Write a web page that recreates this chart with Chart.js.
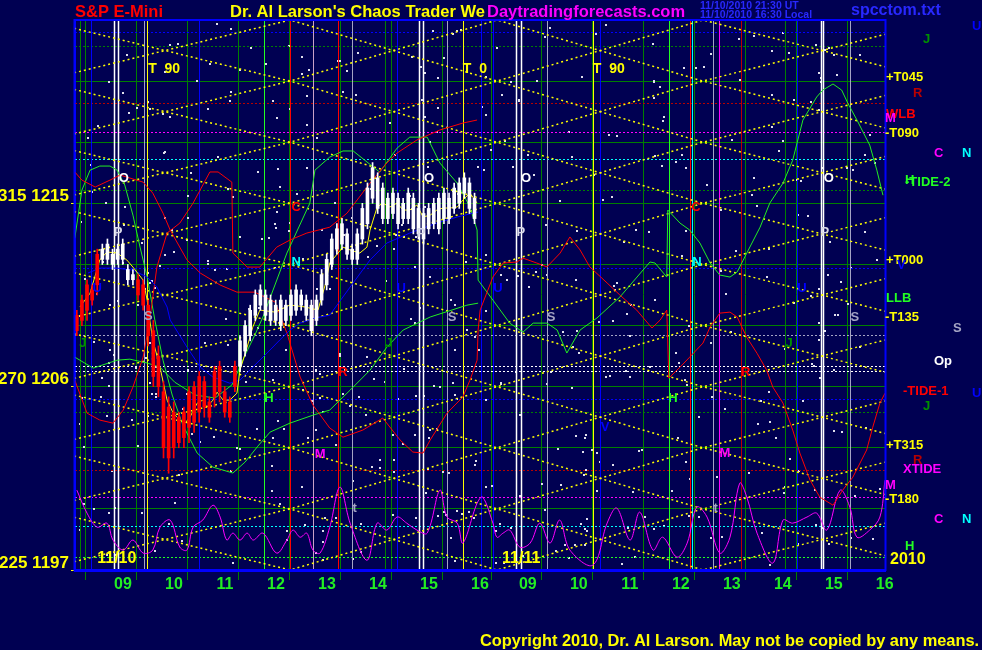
<!DOCTYPE html>
<html lang="en">
<head>
  <meta charset="UTF-8" />
  <title>S&amp;P E-Mini - Chaos Trader</title>
  <script src="https://cdn.jsdelivr.net/npm/chart.js"></script>
  <style>
    body { margin: 0; background: #000052; }
    canvas { display: block; }
  </style>
</head>
<body>
  <canvas id="chaos" width="982" height="650"></canvas>

  <script>
    // x = chart hours (day 1 clock time, day 2 clock time shifted by 7.94)
    const hourTicks = [9, 10, 11, 12, 13, 14, 15, 16, 16.94, 17.94, 18.94, 19.94, 20.94, 21.94, 22.94, 23.94];
    const hourLabels = ['09', '10', '11', '12', '13', '14', '15', '16', '09', '10', '11', '12', '13', '14', '15', '16'];
    const priceLabelValues = [1197, 1206, 1215];
    const priceLabelText = ['225 1197', '270 1206', '315 1215'];
    const dateLabels = ['11/10', '11/11'];
    const dateTimes = [8.73, 16.67];

    // 6-minute bars, day 1
    const barStart = 8.33, barStep = 0.1;
    const barHigh = [1209.75,1210.5,1211.25,1211.0,1212.75,1213.0,1213.25,1212.75,1213.0,1213.25,
      1212.0,1211.75,1211.5,1211.25,1210.25,1209.25,1208.0,1206.25,1205.5,1205.25,
      1204.75,1205.0,1206.0,1206.25,1206.75,1206.5,1205.5,1207.0,1207.25,1206.0,
      1205.5,1207.25,1208.5,1209.25,1210.0,1210.75,1211.0,1210.75,1210.5,1210.25,
      1210.5,1210.25,1210.75,1211.0,1210.75,1210.5,1210.25,1210.5,1211.75,1212.5,
      1213.5,1214.0,1214.25,1213.75,1213.0,1213.75,1215.0,1216.0,1217.0,1216.5,
      1216.0,1215.5,1215.75,1215.5,1215.25,1215.75,1215.5,1215.0,1214.75,1215.0,
      1215.25,1215.5,1215.75,1215.5,1216.0,1216.25,1216.5,1216.25,1215.5];
    const barLow = [1208.5,1209.0,1209.25,1210.0,1210.5,1212.0,1212.0,1211.75,1212.0,1212.0,
      1211.0,1211.0,1210.25,1209.75,1208.0,1206.0,1205.5,1202.5,1201.75,1202.5,
      1203.0,1203.0,1203.25,1203.75,1204.25,1204.5,1204.25,1205.0,1205.25,1204.5,
      1204.25,1205.75,1206.75,1207.5,1208.25,1209.25,1209.75,1209.25,1209.0,1209.0,
      1208.75,1209.0,1209.25,1209.5,1209.75,1209.25,1208.5,1209.0,1210.0,1210.75,
      1211.75,1212.5,1212.75,1212.25,1212.0,1212.0,1213.0,1213.75,1215.0,1214.5,
      1214.0,1214.0,1214.25,1213.75,1214.0,1214.0,1213.5,1213.25,1213.0,1213.5,
      1213.75,1213.5,1214.0,1214.0,1214.5,1214.75,1215.25,1214.5,1214.0];
    const barOpen = [1209.5,1210.25,1211.0,1210.75,1212.5,1212.25,1212.25,1212.0,1212.25,1212.25,
      1211.25,1211.25,1211.25,1211.0,1210.0,1208.75,1207.5,1205.75,1205.0,1204.75,
      1204.5,1204.75,1205.75,1206.0,1206.5,1206.25,1205.25,1206.75,1207.0,1205.75,
      1205.25,1207.0,1207.0,1207.75,1208.5,1209.5,1210.0,1209.5,1209.25,1209.25,
      1209.0,1209.25,1209.5,1209.75,1210.0,1209.5,1208.75,1209.25,1210.25,1211.0,
      1212.0,1212.75,1213.0,1212.5,1212.25,1212.25,1213.25,1214.0,1215.25,1214.75,
      1214.25,1214.25,1214.5,1214.0,1214.25,1214.25,1213.75,1213.5,1213.25,1213.75,
      1214.0,1213.75,1214.25,1214.25,1214.75,1215.0,1215.5,1214.75,1214.25];
    const barClose = [1208.75,1209.25,1209.75,1210.25,1211.0,1212.75,1213.0,1212.5,1212.75,1213.0,
      1211.75,1211.5,1210.5,1210.0,1208.5,1206.5,1206.0,1203.0,1202.5,1203.0,
      1203.25,1203.5,1204.0,1204.25,1204.75,1205.0,1204.5,1205.5,1205.75,1204.75,
      1204.5,1206.0,1208.25,1209.0,1209.75,1210.5,1210.75,1210.5,1210.25,1210.0,
      1210.25,1210.0,1210.5,1210.75,1210.5,1210.25,1210.0,1210.25,1211.5,1212.25,
      1213.25,1213.75,1214.0,1213.5,1212.75,1213.5,1214.75,1215.75,1216.75,1216.25,
      1215.75,1215.25,1215.5,1215.25,1215.0,1215.5,1215.25,1214.75,1214.5,1214.75,
      1215.0,1215.25,1215.5,1215.25,1215.75,1216.0,1216.25,1216.0,1215.25];

    // smoothed price (yellow)
    const avgLine = [[8.39,1209.91],[8.59,1210.59],[8.78,1212.22],[8.92,1212.61],[9.12,1212.56],[9.31,1212.22],
      [9.43,1211.87],[9.63,1211.23],[9.71,1210.25],[9.76,1209.27],[9.82,1208.29],[9.96,1206.96],[10.1,1205.34],
      [10.22,1204.7],[10.35,1204.36],[10.45,1204.21],[10.55,1204.51],[10.69,1205.19],[10.8,1205.34],[10.88,1205.0],
      [11.0,1205.34],[11.08,1205.73],[11.2,1205.34],[11.33,1205.34],[11.47,1205.68],[11.53,1206.81],[11.67,1207.94],
      [11.78,1208.92],[11.92,1209.76],[12.22,1209.66],[12.51,1210.01],[12.81,1209.91],[13.06,1209.76],[13.2,1210.99],
      [13.29,1212.07],[13.55,1212.85],[13.69,1212.71],[13.88,1212.56],[14.02,1212.85],[14.08,1213.69],[14.22,1214.82],
      [14.33,1215.01],[14.47,1214.82],[14.61,1215.01],[14.73,1214.67],[14.86,1214.67],[15.0,1214.92],[15.12,1214.33],
      [15.26,1214.42],[15.39,1214.67],[15.51,1214.77],[15.65,1214.77],[15.79,1214.82],[15.9,1215.16],[16.04,1215.5],
      [16.18,1215.01]];

    // green cycle lines
    const greenA = [[8.29,1213.29],[8.43,1215.65],[8.59,1216.63],[8.78,1216.83],[8.98,1216.83],[9.12,1216.63],
      [9.27,1215.9],[9.43,1214.42],[9.57,1212.85],[9.71,1211.38],[9.86,1209.27],[10.02,1207.3],[10.2,1205.59],
      [10.41,1204.11],[10.69,1202.74],[11.0,1202.05],[11.39,1201.76],[11.63,1202.3],[11.88,1203.08],[12.12,1203.77],
      [12.51,1204.21],[12.96,1204.6],[13.29,1204.85],[13.69,1205.83],[14.08,1206.81],[14.41,1207.94],[14.73,1208.78],
      [15.26,1209.42],[15.98,1210.0],[16.2,1210.1]];
    const greenB = [[8.29,1207.45],[8.65,1206.91],[9.12,1207.3],[9.37,1207.35],[9.71,1207.16],[9.96,1206.96],
      [10.25,1206.22],[10.65,1205.59],[11.04,1205.44],[11.37,1206.08],[11.63,1207.55],[11.82,1208.53],[11.98,1209.42],
      [12.45,1212.56],[12.9,1215.01],[13.0,1216.63],[13.29,1217.27],[13.55,1217.57],[13.75,1217.57],[14.27,1216.53],
      [14.61,1217.71],[14.86,1218.25],[15.2,1218.25],[15.45,1216.98],[15.79,1215.99],[16.04,1214.82],[16.18,1213.69],
      [16.2,1211.23],[16.49,1210.25],[16.82,1209.12],[17.08,1208.68],[17.28,1209.12],[17.55,1209.12],[17.75,1208.78],
      [17.94,1207.65],[18.2,1208.78],[18.53,1209.37],[18.98,1210.4],[19.57,1212.12],[19.67,1212.07],[19.9,1211.38],
      [19.92,1214.67],[20.16,1214.03],[20.35,1213.69],[20.55,1213.05],[20.75,1212.07],[20.94,1211.48],[21.14,1211.38],
      [21.28,1211.63],[21.47,1212.56],[21.73,1213.83],[21.92,1215.01],[22.18,1215.99],[22.37,1217.12],[22.57,1219.09],
      [22.84,1220.22],[22.96,1220.56],[23.16,1220.86],[23.33,1220.56],[23.45,1219.92],[23.63,1219.09],[23.88,1217.86],
      [24.02,1216.63],[24.14,1215.4]];

    // red cycle lines
    const redA = [[8.29,1216.54],[8.43,1216.14],[8.69,1215.8],[8.98,1216.14],[9.18,1216.39],[9.63,1216.04],
      [9.82,1215.5],[10.02,1214.52],[10.16,1213.69],[10.49,1212.22],[10.75,1211.58],[11.14,1210.99],[11.47,1210.64],
      [11.82,1210.64],[12.22,1210.15],[12.45,1208.63],[12.71,1206.47],[12.96,1205.1],[13.29,1203.97],[13.55,1203.52],
      [13.94,1203.87],[14.33,1204.46],[14.67,1203.38],[14.92,1202.79],[15.12,1202.74],[15.26,1203.38],[15.59,1204.7],
      [15.9,1205.49],[16.04,1206.32],[16.18,1207.3],[16.2,1208.78],[16.24,1209.76],[16.49,1211.38],[16.69,1212.07],
      [16.96,1212.12],[17.08,1212.31],[17.35,1212.07],[17.55,1211.88],[17.81,1212.56],[18.0,1213.35],[18.2,1212.71],
      [18.39,1211.88],[18.73,1211.09],[18.98,1210.5],[19.31,1209.76],[19.61,1208.88],[19.77,1209.27],[19.9,1209.76],
      [19.94,1206.42],[20.16,1206.96],[20.35,1207.45],[20.61,1208.14],[20.75,1208.93],[20.94,1209.61],[21.14,1209.66],
      [21.28,1209.42],[21.47,1208.42],[21.67,1207.64],[21.86,1206.81],[21.98,1205.98],[22.18,1205.19],[22.37,1203.87],
      [22.51,1202.74],[22.71,1201.41],[22.9,1200.58],[23.16,1200.18],[23.35,1200.92],[23.55,1201.56],[23.82,1202.89],
      [23.94,1204.01],[24.08,1205.19],[24.18,1205.68]];
    const redB = [[8.29,1206.32],[8.53,1204.7],[8.78,1204.36],[9.04,1204.21],[9.24,1204.85],[9.43,1205.98],
      [9.63,1207.45],[9.76,1209.27],[9.9,1211.87],[10.1,1213.54],[10.35,1214.03],[10.61,1215.01],[10.94,1216.54],
      [11.1,1216.54],[11.37,1216.04],[11.39,1212.56],[11.67,1211.87],[11.92,1211.87],[12.25,1212.85],[12.51,1213.2],
      [12.84,1213.54],[13.29,1213.83],[13.63,1214.52],[14.08,1215.99],[14.41,1216.98],[14.61,1217.47],[15.0,1218.11],
      [15.45,1218.6],[15.9,1218.94],[16.18,1219.09]];

    // blue cycle line
    const blueA = [[8.55,1211.58],[8.78,1211.82],[9.12,1211.82],[9.43,1211.72],[9.71,1211.38],[9.9,1210.89],
      [10.1,1209.91],[10.16,1209.27],[10.49,1207.94],[10.75,1206.96],[11.0,1206.47],[11.33,1206.17],[11.53,1206.32],
      [11.78,1206.96],[12.06,1207.65],[12.31,1208.29],[12.51,1208.78],[12.71,1209.12],[13.0,1209.37],[13.29,1209.51],
      [13.69,1210.89],[14.08,1212.22],[14.41,1213.05],[14.86,1213.54],[15.39,1214.03],[15.79,1214.33],[16.1,1214.52],
      [16.2,1214.57]];

    // magenta oscillator along the bottom
    const magentaA = [[8.33,1200.92],[8.53,1199.79],[8.73,1199.1],[8.92,1199.3],[9.04,1198.47],[9.24,1197.98],
      [9.43,1198.47],[9.63,1197.83],[9.82,1197.98],[9.96,1199.1],[10.16,1199.45],[10.35,1198.12],[10.49,1197.98],
      [10.61,1199.1],[10.8,1199.45],[11.0,1200.18],[11.14,1199.6],[11.27,1198.47],[11.39,1198.81],[11.53,1198.47],
      [11.67,1198.81],[11.79,1198.47],[11.98,1198.81],[12.25,1197.83],[12.45,1198.47],[12.57,1198.96],[12.71,1198.61],
      [12.84,1198.81],[12.96,1197.98],[13.1,1197.83],[13.29,1199.1],[13.49,1201.07],[13.69,1199.3],[14.02,1197.48],
      [14.22,1199.3],[14.41,1198.96],[14.61,1199.6],[14.8,1199.3],[15.0,1198.96],[15.2,1198.81],[15.45,1200.92],
      [15.59,1199.6],[15.79,1199.3],[15.9,1198.32],[16.18,1200.28],[16.29,1200.58],[16.49,1199.3],[16.57,1198.61],
      [16.69,1198.81],[16.82,1198.96],[17.02,1198.12],[17.22,1198.32],[17.41,1199.3],[17.61,1198.32],[17.8,1199.45],
      [18.0,1197.98],[18.45,1197.24],[18.73,1199.3],[18.92,1200.04],[19.18,1198.47],[19.37,1199.84],[19.63,1197.98],
      [19.82,1198.61],[20.1,1197.63],[20.3,1198.32],[20.49,1200.09],[20.69,1199.6],[20.94,1197.83],[21.14,1198.61],
      [21.33,1201.26],[21.47,1200.58],[21.67,1198.81],[21.98,1197.34],[22.18,1199.45],[22.37,1199.3],[22.65,1199.6],
      [22.84,1199.79],[23.04,1198.96],[23.3,1200.92],[23.49,1200.09],[23.63,1198.61],[23.88,1198.96],[24.08,1199.6],
      [24.18,1201.41]];

    // yellow dotted time lattice: turning times and price levels
    const latticeTimes = [7.61, 12.51, 16.57, 20.61, 25.28];
    const latticeLevels = [1224, 1221, 1218, 1215, 1212, 1209, 1206, 1203, 1200, 1197];

    // dotted price levels
    const levelPrices = [1223.41, 1222.72, 1219.92, 1218.5, 1217.17, 1215.65, 1211.82, 1208.53,
      1207.0, 1206.77, 1205.39, 1204.75, 1201.9, 1200.58, 1199.15, 1197.63];
    const levelKinds = ['blue', 'green', 'darkred', 'magenta', 'cyan', 'green', 'blue', 'gray',
      'white', 'white', 'blue', 'green', 'darkred', 'magenta', 'cyan', 'lime'];

    // vertical time lines
    const vTimes = [8.39, 8.61, 9.06, 9.14, 9.65, 9.71, 10.73, 12.0, 12.51, 12.96, 13.45, 13.73, 14.37, 14.61,
      15.04, 15.12, 15.59, 15.9, 16.25, 16.49, 16.94, 17.04, 17.55, 18.45, 18.59, 19.94, 20.35, 20.39, 20.8,
      20.92, 21.35, 22.21, 22.45, 22.92, 22.96, 23.49];
    const vKinds = ['green', 'blue', 'white', 'white', 'gray', 'yellow', 'blue', 'lime', 'red', 'pinkgray', 'red',
      'gray', 'green', 'blue', 'white', 'white', 'gray', 'yellow', 'blue', 'blue', 'white', 'white', 'gray',
      'yellow', 'blue', 'lime', 'red', 'cyan', 'gray', 'magenta', 'darkred', 'green', 'blue', 'white', 'white', 'gray'];

    // planet letters inside the chart
    const markText = ['T  90', 'T  0', 'T  90', 'O', 'P', 'S', 'J', 'U', 'C', 'N', 'H', 'M', 'R', 'J', 't',
      'O', 'P', 'U', 'S', 'O', 'P', 'U', 'S', 'V', 'C', 'N', 'H', 'M', 'R', 'J', 'U', 'O', 'P', 'S', 't'];
    const markTime = [9.73, 15.9, 18.45, 9.25, 9.14, 9.73, 8.45, 8.73, 12.63, 12.63, 12.1, 13.1, 13.55, 14.45, 13.78,
      15.24, 15.08, 14.69, 15.69, 17.14, 17.04, 16.59, 17.63, 18.69, 20.47, 20.49, 20.02, 21.04, 21.45, 22.3, 22.55,
      23.08, 23.0, 23.59, 20.86];
    const markPrice = [1221.59, 1221.59, 1221.59, 1216.24, 1213.59, 1209.47, 1208.14, 1210.84, 1214.82, 1212.12,
      1205.44, 1202.69, 1206.71, 1208.14, 1200.04, 1216.24, 1213.54, 1210.84, 1209.42, 1216.24, 1213.59, 1210.84,
      1209.42, 1204.01, 1214.82, 1212.12, 1205.44, 1202.74, 1206.71, 1208.14, 1210.84, 1216.24, 1213.59, 1209.42,
      1200.04];
    const markKind = ['yellow', 'yellow', 'yellow', 'white', 'ltgray', 'gray', 'dkgreen', 'blue', 'red', 'cyan', 'lime',
      'magenta', 'red', 'dkgreen', 'gray', 'white', 'ltgray', 'blue', 'gray', 'white', 'ltgray', 'blue', 'gray', 'blue',
      'red', 'cyan', 'lime', 'magenta', 'red', 'dkgreen', 'blue', 'white', 'ltgray', 'gray', 'gray'];

    // labels in the right margin
    const sideText = ['U', 'J', '+T045', 'R', 'WLB', 'M', '-T090', 'C', 'N', '-TIDE-2', 'H', '+T000', 'V', 'LLB',
      '-T135', 'S', 'Op', '-TIDE-1', 'U', 'J', '+T315', 'R', 'XTIDE', 'M', '-T180', 'C', 'N', 'H'];
    const sidePrice = [1223.7, 1223.07, 1221.2, 1220.41, 1219.38, 1219.19, 1218.45, 1217.47, 1217.47, 1216.04,
      1216.14, 1212.22, 1211.97, 1210.35, 1209.42, 1208.88, 1207.25, 1205.78, 1205.68, 1205.05, 1203.13, 1202.39,
      1201.95, 1201.17, 1200.48, 1199.5, 1199.5, 1198.17];
    const sideKind = ['blue', 'dkgreen', 'yellow', 'darkred', 'red', 'magenta', 'yellow', 'magenta', 'cyan', 'lime',
      'lime', 'yellow', 'blue', 'lime', 'yellow', 'gray', 'white', 'red', 'blue', 'dkgreen', 'yellow', 'darkred',
      'magenta', 'magenta', 'yellow', 'magenta', 'cyan', 'lime'];
    const sideDx = [87, 38, 1, 28, 1, 0, 0, 49, 77, 20, 20, 1, 12, 1, 0, 68, 49, 18, 87, 38, 1, 28, 18, 0, 0, 49, 77, 20];

    // ---- styles ----
    const NAVY = '#000052';
    const FONT = '"Liberation Sans", Arial, sans-serif';
    const COLORS = {
      green: '#008000', lime: '#22ff22', blue: '#0000ff', white: '#ffffff', gray: '#a4a4c4',
      ltgray: '#d8d8e8', yellow: '#ffff00', red: '#ff0000', darkred: '#b80000', magenta: '#ff00ff',
      cyan: '#00ffff', pinkgray: '#c8a0c8', dkgreen: '#009000'
    };
    const bold = size => 'bold ' + size + 'px ' + FONT;
    const pts = list => list.map(([x, y]) => ({ x, y }));

    function curve(list, color, order, tension) {
      return {
        type: 'line', data: pts(list), borderColor: color, borderWidth: 1,
        pointRadius: 0, tension: tension || 0, order
      };
    }

    const latticeSets = [];
    for (let k = 0; k < latticeLevels.length - 1; k++) {
      const hi = latticeLevels[k], lo = latticeLevels[k + 1];
      [0, 1].forEach(phase => {
        latticeSets.push({
          type: 'line',
          data: latticeTimes.map((t, j) => ({ x: t, y: (j + phase) % 2 === 0 ? lo : hi })),
          borderColor: '#ffff00', borderWidth: 1.5, borderDash: [2, 3],
          pointRadius: 0, tension: 0, order: 6
        });
      });
    }

    const barColor = c => barClose[c.dataIndex] >= barOpen[c.dataIndex] ? '#ffffff' : '#ff0000';
    const barTimes = barHigh.map((_, i) => barStart + i * barStep);

    const chaosDecor = {
      id: 'chaosDecor',
      beforeDraw(chart) {
        const { ctx } = chart;
        ctx.save();
        ctx.fillStyle = NAVY;
        ctx.fillRect(0, 0, chart.width, chart.height);
        ctx.restore();
      },
      beforeDatasetsDraw(chart) {
        const { ctx, chartArea: a, scales: { x, y } } = chart;
        ctx.save();
        // star field texture
        ctx.fillStyle = '#e0e0ec';
        let s = 12345;
        for (let i = 0; i < 520; i++) {
          s = (s * 1103515245 + 12345) & 0x7fffffff;
          const sx = a.left + 3 + (s % 10000) / 10000 * (a.right - a.left - 6);
          s = (s * 1103515245 + 12345) & 0x7fffffff;
          const sy = a.top + 3 + (s % 10000) / 10000 * (a.bottom - a.top - 6);
          ctx.fillRect(Math.round(sx), Math.round(sy), 2, 2);
        }
        // dotted price levels
        ctx.lineWidth = 1;
        ctx.setLineDash([2, 2]);
        levelPrices.forEach((p, i) => {
          const py = Math.round(y.getPixelForValue(p)) + 0.5;
          ctx.strokeStyle = COLORS[levelKinds[i]];
          ctx.beginPath();
          ctx.moveTo(a.left, py);
          ctx.lineTo(a.right, py);
          ctx.stroke();
        });
        ctx.setLineDash([]);
        // vertical time lines
        vTimes.forEach((t, i) => {
          const px = Math.round(x.getPixelForValue(t)) + 0.5;
          ctx.strokeStyle = COLORS[vKinds[i]];
          ctx.lineWidth = vKinds[i] === 'white' ? 1.5 : 1;
          ctx.beginPath();
          ctx.moveTo(px, a.top);
          ctx.lineTo(px, a.bottom);
          ctx.stroke();
        });
        ctx.restore();
      },
      afterDatasetsDraw(chart) {
        const { ctx, scales: { x, y } } = chart;
        ctx.save();
        ctx.textBaseline = 'middle';
        markText.forEach((txt, i) => {
          const isT = txt.length > 1;
          ctx.font = bold(isT ? 14 : 13);
          ctx.textAlign = isT ? 'left' : 'center';
          ctx.fillStyle = COLORS[markKind[i]];
          ctx.fillText(txt, x.getPixelForValue(markTime[i]), y.getPixelForValue(markPrice[i]));
        });
        ctx.font = bold(16);
        ctx.textAlign = 'left';
        ctx.fillStyle = '#ffff00';
        dateLabels.forEach((txt, i) => {
          ctx.fillText(txt, x.getPixelForValue(dateTimes[i]), chart.chartArea.bottom - 11);
        });
        ctx.restore();
      },
      afterDraw(chart) {
        const { ctx, chartArea: a, scales: { y } } = chart;
        ctx.save();
        // plot frame
        ctx.strokeStyle = '#0000ff';
        ctx.lineWidth = 2;
        ctx.strokeRect(a.left - 0.5, a.top, a.right - a.left + 1, a.bottom - a.top);
        ctx.lineWidth = 3;
        ctx.beginPath();
        ctx.moveTo(a.left - 1, a.bottom + 0.5);
        ctx.lineTo(a.right + 1, a.bottom + 0.5);
        ctx.stroke();

        // right margin labels
        ctx.textBaseline = 'middle';
        ctx.textAlign = 'left';
        ctx.font = bold(13);
        sideText.forEach((txt, i) => {
          ctx.fillStyle = COLORS[sideKind[i]];
          ctx.fillText(txt, a.right + sideDx[i], y.getPixelForValue(sidePrice[i]));
        });
        ctx.font = bold(16);
        ctx.fillStyle = '#ffff00';
        ctx.fillText('2010', a.right + 5, a.bottom - 10);

        // header
        ctx.textBaseline = 'alphabetic';
        ctx.font = bold(16.5);
        ctx.fillStyle = '#ff0000';
        ctx.fillText('S&P E-Mini', 75, 17);
        ctx.fillStyle = '#ffff00';
        ctx.fillText("Dr. Al Larson's Chaos Trader We", 230, 17);
        ctx.fillStyle = '#ff00ff';
        ctx.fillText('Daytradingforecasts.com', 487, 17);
        ctx.font = bold(16);
        ctx.fillStyle = '#2828ff';
        ctx.fillText('spcctom.txt', 851, 15);
        ctx.font = bold(10.5);
        ctx.fillText('11/10/2010 21:30 UT', 700, 9);
        ctx.fillText('11/10/2010 16:30 Local', 700, 18);

        // footer
        ctx.font = bold(16.4);
        ctx.fillStyle = '#ffff00';
        ctx.fillText('Copyright 2010, Dr. Al Larson. May not be copied by any means.', 480, 646);
        ctx.restore();
      }
    };

    new Chart(document.getElementById('chaos'), {
      type: 'line',
      data: {
        datasets: [
          {
            type: 'bar', grouped: false, barThickness: 1, order: 0,
            data: barTimes.map((t, i) => ({ x: t, y: [barLow[i], barHigh[i]] })),
            backgroundColor: barColor
          },
          {
            type: 'bar', grouped: false, barThickness: 3, order: 0,
            data: barTimes.map((t, i) => ({ x: t, y: [barOpen[i], barClose[i]] })),
            backgroundColor: barColor
          },
          curve(avgLine, '#ffff00', 1),
          curve(blueA, '#0000ff', 2),
          curve(redA, '#ff0000', 3),
          curve(redB, '#ff0000', 3),
          curve(greenA, '#22ee22', 3),
          curve(greenB, '#22ee22', 3),
          curve(magentaA, '#ff00ff', 4, 0.35),
          ...latticeSets
        ]
      },
      options: {
        responsive: false,
        animation: false,
        events: [],
        layout: { padding: { top: 20, right: 97, left: 0, bottom: 0 } },
        plugins: { legend: { display: false }, tooltip: { enabled: false } },
        scales: {
          x: {
            type: 'linear', min: 8.294, max: 24.18, offset: false,
            afterBuildTicks: s => { s.ticks = hourTicks.map(v => ({ value: v })); },
            afterFit: s => { s.height = 80; },
            ticks: {
              autoSkip: false, maxRotation: 0, color: '#22ee22', font: { family: FONT, size: 16, weight: 'bold' },
              labelOffset: 12, padding: -5,
              callback: (v, i) => hourLabels[i]
            },
            grid: { color: '#008000', tickLength: 10, tickColor: '#008000' },
            border: { color: '#0000ff', width: 3 }
          },
          y: {
            min: 1197, max: 1224,
            afterFit: s => { s.width = 75; },
            ticks: {
              stepSize: 3, color: '#ffff00', font: { family: FONT, size: 17, weight: 'bold' },
              padding: 2, labelOffset: -7,
              callback: v => {
                const k = priceLabelValues.indexOf(v);
                return k >= 0 ? priceLabelText[k] : '';
              }
            },
            grid: {
              color: '#008000', tickLength: 4,
              tickColor: c => priceLabelValues.includes(c.tick && c.tick.value) ? '#ffff00' : 'rgba(0,0,0,0)'
            },
            border: { color: '#0000ff', width: 2 }
          }
        }
      },
      plugins: [chaosDecor]
    });
  </script>
</body>
</html>
